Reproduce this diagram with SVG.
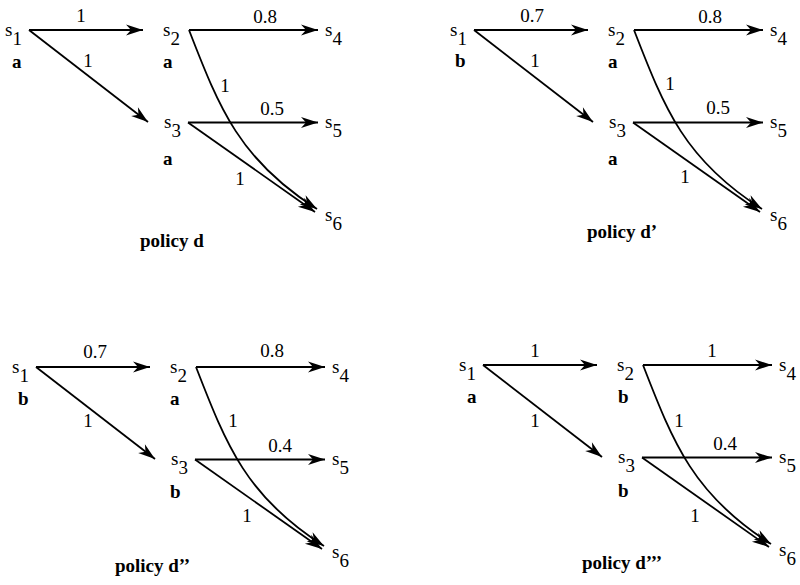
<svg xmlns="http://www.w3.org/2000/svg" width="800" height="585" viewBox="0 0 800 585" font-family="'Liberation Serif', 'Times New Roman', serif" font-size="19">
<defs>
<style>
text{font-family:'Liberation Serif','Times New Roman',serif;font-size:19px;fill:#000}
.b{font-weight:bold}
.m{text-anchor:middle}
.e{fill:none;stroke:#000;stroke-width:1.8;marker-end:url(#ah)}
</style>
<marker id="ah" viewBox="-18 -7 20 14" refX="0" refY="0" markerWidth="20" markerHeight="14" markerUnits="userSpaceOnUse" orient="auto">
<path d="M0,0 L-17,-5.5 L-12,0 L-17,5.5 Z" fill="#000"/>
</marker>
</defs>

<!-- Panel 1 -->
<g id="panel-d">
<g id="d-connectors">
<path class="e" d="M29,30 H143"/>
<path class="e" d="M29,30 L148,122"/>
<path class="e" d="M189,30 H318"/>
<path class="e" d="M189,30 C220,110 240,160 317,209"/>
<path class="e" d="M188,122.5 H318"/>
<path class="e" d="M188,122.5 L315,212"/>
<text class="m" x="81" y="22">1</text>
<text class="m" x="88" y="67">1</text>
<text class="m" x="265" y="23">0.8</text>
<text class="m" x="225" y="92">1</text>
<text class="m" x="272" y="115">0.5</text>
<text class="m" x="240" y="185">1</text>
</g>
<g id="d-s1"><text x="5" y="36">s<tspan dy="9">1</tspan></text><text class="b" x="12" y="68">a</text></g>
<g id="d-s2"><text x="163" y="36">s<tspan dy="9">2</tspan></text><text class="b" x="163" y="68">a</text></g>
<g id="d-s3"><text x="164" y="128">s<tspan dy="9">3</tspan></text><text class="b" x="163" y="165">a</text></g>
<g id="d-s4"><text x="325" y="36">s<tspan dy="9">4</tspan></text></g>
<g id="d-s5"><text x="325" y="128">s<tspan dy="9">5</tspan></text></g>
<g id="d-s6"><text x="325" y="221">s<tspan dy="9">6</tspan></text></g>
<text class="b" x="140" y="247">policy d</text>
</g>

<!-- Panel 2 -->
<g id="panel-d1" transform="translate(445,0)">
<g id="d1-connectors">
<path class="e" d="M29,30 H143"/>
<path class="e" d="M29,30 L148,122"/>
<path class="e" d="M189,30 H318"/>
<path class="e" d="M189,30 C220,110 240,160 317,209"/>
<path class="e" d="M188,122.5 H318"/>
<path class="e" d="M188,122.5 L315,212"/>
<text class="m" x="87" y="22">0.7</text>
<text class="m" x="90" y="67">1</text>
<text class="m" x="265" y="23">0.8</text>
<text class="m" x="225" y="90">1</text>
<text class="m" x="273" y="114">0.5</text>
<text class="m" x="240" y="183">1</text>
</g>
<g id="d1-s1"><text x="5" y="36">s<tspan dy="9">1</tspan></text><text class="b" x="10" y="67">b</text></g>
<g id="d1-s2"><text x="163" y="36">s<tspan dy="9">2</tspan></text><text class="b" x="163" y="68">a</text></g>
<g id="d1-s3"><text x="164" y="128">s<tspan dy="9">3</tspan></text><text class="b" x="163" y="165">a</text></g>
<g id="d1-s4"><text x="325" y="36">s<tspan dy="9">4</tspan></text></g>
<g id="d1-s5"><text x="325" y="128">s<tspan dy="9">5</tspan></text></g>
<g id="d1-s6"><text x="325" y="221">s<tspan dy="9">6</tspan></text></g>
<text class="b" x="142" y="238">policy d’</text>
</g>

<!-- Panel 3 -->
<g id="panel-d2" transform="translate(7,337)">
<g id="d2-connectors">
<path class="e" d="M29,30 H143"/>
<path class="e" d="M29,30 L148,122"/>
<path class="e" d="M189,30 H318"/>
<path class="e" d="M189,30 C220,110 240,160 317,209"/>
<path class="e" d="M188,122.5 H318"/>
<path class="e" d="M188,122.5 L315,212"/>
<text class="m" x="88" y="21">0.7</text>
<text class="m" x="81" y="90">1</text>
<text class="m" x="265" y="20">0.8</text>
<text class="m" x="226" y="90">1</text>
<text class="m" x="273" y="115">0.4</text>
<text class="m" x="240" y="185">1</text>
</g>
<g id="d2-s1"><text x="5" y="36">s<tspan dy="9">1</tspan></text><text class="b" x="11" y="68">b</text></g>
<g id="d2-s2"><text x="163" y="36">s<tspan dy="9">2</tspan></text><text class="b" x="163" y="68">a</text></g>
<g id="d2-s3"><text x="164" y="128">s<tspan dy="9">3</tspan></text><text class="b" x="163" y="161">b</text></g>
<g id="d2-s4"><text x="325" y="36">s<tspan dy="9">4</tspan></text></g>
<g id="d2-s5"><text x="325" y="128">s<tspan dy="9">5</tspan></text></g>
<g id="d2-s6"><text x="325" y="221">s<tspan dy="9">6</tspan></text></g>
<text class="b" x="108" y="235">policy d’’</text>
</g>

<!-- Panel 4 -->
<g id="panel-d3" transform="translate(454,335)">
<g id="d3-connectors">
<path class="e" d="M29,30 H143"/>
<path class="e" d="M29,30 L148,122"/>
<path class="e" d="M189,30 H318"/>
<path class="e" d="M189,30 C220,110 240,160 317,209"/>
<path class="e" d="M188,122.5 H318"/>
<path class="e" d="M188,122.5 L315,212"/>
<text class="m" x="81" y="22">1</text>
<text class="m" x="81" y="92">1</text>
<text class="m" x="258" y="22">1</text>
<text class="m" x="225" y="92">1</text>
<text class="m" x="271" y="115">0.4</text>
<text class="m" x="241" y="187">1</text>
</g>
<g id="d3-s1"><text x="5" y="36">s<tspan dy="9">1</tspan></text><text class="b" x="13" y="68">a</text></g>
<g id="d3-s2"><text x="163" y="36">s<tspan dy="9">2</tspan></text><text class="b" x="164" y="68">b</text></g>
<g id="d3-s3"><text x="164" y="128">s<tspan dy="9">3</tspan></text><text class="b" x="164" y="162">b</text></g>
<g id="d3-s4"><text x="325" y="36">s<tspan dy="9">4</tspan></text></g>
<g id="d3-s5"><text x="325" y="128">s<tspan dy="9">5</tspan></text></g>
<g id="d3-s6"><text x="325" y="221">s<tspan dy="9">6</tspan></text></g>
<text class="b" x="128" y="234">policy d’’’</text>
</g>
</svg>
